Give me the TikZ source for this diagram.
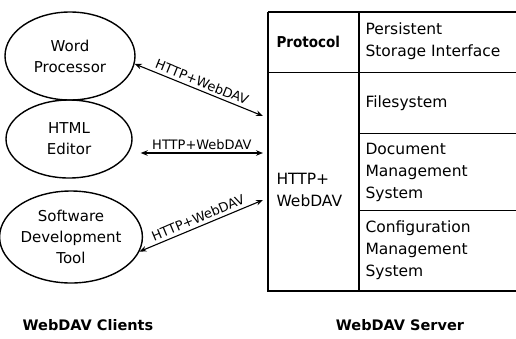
\documentclass[tikz,border=0pt]{standalone}
\usepackage{fontspec}
\setmainfont{DejaVu Sans}
\newfontfamily\condbold{DejaVu Sans Condensed Bold}
\usetikzlibrary{shapes.geometric,arrows.meta}
\begin{document}
\begin{tikzpicture}[x=1pt,y=-1pt,
  client/.style={ellipse,draw,line width=1.4pt,inner sep=0pt,align=center,font=\fontsize{15}{21}\selectfont},
  cell/.style={rectangle,draw,line width=1pt,anchor=north west,inner sep=0pt},
  celltext/.style={anchor=west,align=left,font=\fontsize{15.5}{22}\selectfont},
  biarrow/.style={{Stealth[length=7pt,width=5.5pt]}-{Stealth[length=7pt,width=5.5pt]},line width=1.1pt},
  arrlabel/.style={font=\fontsize{13}{15}\selectfont,inner sep=3pt},
  caption/.style={font=\bfseries\fontsize{14.5}{17}\selectfont}]
\useasboundingbox (0,0) rectangle (516,338);
% clients
\node[client,minimum width=130pt,minimum height=88pt] (wp) at (70,56) {Word\\Processor};
\node[client,minimum width=126pt,minimum height=78pt] (he) at (69,139) {HTML\\Editor};
\node[client,minimum width=126pt,minimum height=92pt] (sdt) at (71,237) {Software\\Development\\Tool};
% server table
\node[cell,minimum width=90pt,minimum height=60pt] (proto) at (268,12) {};
\node[cell,minimum width=90pt,minimum height=218pt] (http) at (268,72) {};
\node[cell,minimum width=160pt,minimum height=60pt] (psi) at (358,12) {};
\node[cell,minimum width=160pt,minimum height=61pt] (fs) at (358,72) {};
\node[cell,minimum width=160pt,minimum height=77pt] (dms) at (358,133) {};
\node[cell,minimum width=160pt,minimum height=80pt] (cms) at (358,210) {};
\draw[line width=2pt] (proto.north west) -- (http.south west) -- (cms.south east);
\draw[line width=1.6pt] (proto.north west) -- (psi.north east);
\draw[line width=1.6pt] (proto.north east) -- (http.south east);
\node[anchor=west,font=\condbold\fontsize{15}{18}\selectfont] (ptxt) at (273,42) {Protocol};
\node[celltext] (htxt) at (273,190) {HTTP+\\WebDAV};
\node[celltext] (psitxt) at (362,41) {Persistent\\Storage Interface};
\node[celltext] (fstxt) at (362,103) {Filesystem};
\node[celltext] (dmstxt) at (362,172) {Document\\Management\\System};
\node[celltext] (cmstxt) at (362,250) {Configuration\\Management\\System};
% connectors
\coordinate (e1) at (263,116);
\coordinate (e2) at (263,153);
\coordinate (e3) at (263,200);
\draw[biarrow] (wp.-7) -- node[arrlabel,sloped,above] {HTTP+WebDAV} (e1);
\draw[biarrow] (he.east |- e2) ++(8,0) coordinate (s2) -- node[arrlabel,above] {HTTP+WebDAV} (e2);
\draw[biarrow] (sdt.-12) -- node[arrlabel,sloped,above] {HTTP+WebDAV} (e3);
% captions
\node[caption] (cap1) at (88,325) {WebDAV Clients};
\node[caption] (cap2) at (400,325) {WebDAV Server};
\end{tikzpicture}
\end{document}
